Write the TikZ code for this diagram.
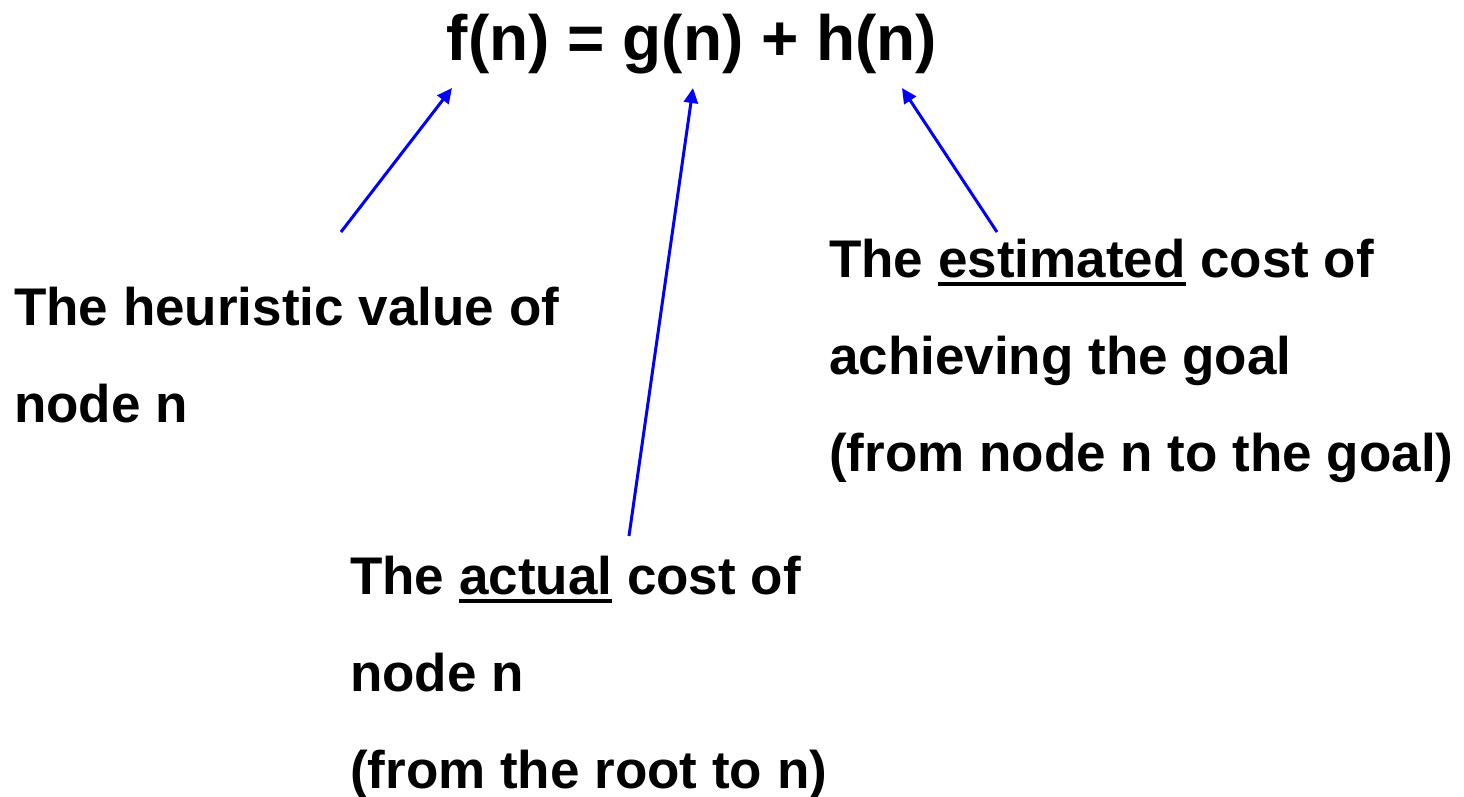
\documentclass[tikz,border=0pt]{standalone}
\usepackage{fontspec}
\setmainfont{Liberation Sans}
\usetikzlibrary{arrows.meta}
\newcommand{\ulword}[1]{\setbox0\hbox{#1}\rlap{\rule[-9pt]{\wd0}{4pt}}\box0\relax}

\begin{document}
\begin{tikzpicture}[x=1pt,y=-1pt,>={Triangle[length=15pt,width=14pt]},
  lbl/.style={font=\fontsize{53}{97}\selectfont\bfseries,align=left,inner sep=0pt,anchor=base west},
  pt/.style={->,blue,line width=3pt}]
\useasboundingbox (0,0) rectangle (1464,796);
\node (eq) [font=\fontsize{64}{70}\selectfont\bfseries,inner sep=0pt,anchor=base] at (692,60) {f(n) = g(n) + h(n)};
% labels (anchored at the baseline of their last line)
\node (hv) [lbl] at (14,422) {The heuristic value of\\node n};
\node (ac) [lbl] at (350,788) {The \ulword{actual} cost of\\node n\\(from the root to n)};
\node (es) [lbl] at (829,471) {The \ulword{estimated} cost of\\achieving the goal\\(from node n to the goal)};
% arrow ends
\coordinate (fn) at (452,88);
\coordinate (gn) at (693,88);
\coordinate (hn) at (902,88);
\coordinate (hvtop) at (341,232);
\coordinate (actop) at (629,536);
\coordinate (estop) at (997,232);
\draw[pt] (hvtop) -- (fn);
\draw[pt] (actop) -- (gn);
\draw[pt] (estop) -- (hn);
\end{tikzpicture}
\end{document}
